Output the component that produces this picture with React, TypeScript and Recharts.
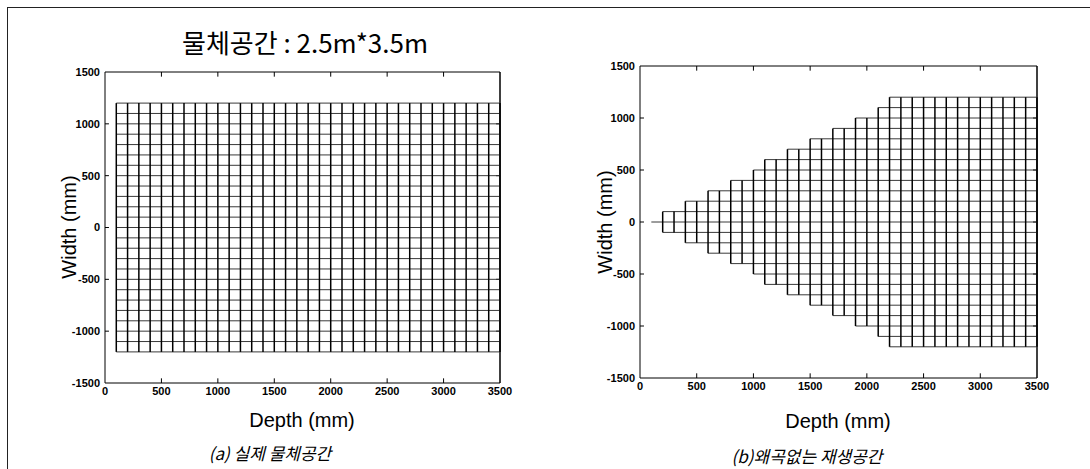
import React from "react";
import { ComposedChart, XAxis, YAxis, ReferenceLine } from "recharts";

// axis ticks (mm)
const depthTicks = [0, 500, 1000, 1500, 2000, 2500, 3000, 3500];
const widthTicks = [-1500, -1000, -500, 0, 500, 1000, 1500];

// grid rows shared by both panels (mm)
const widthLevels = [
  -1200, -1100, -1000, -900, -800, -700, -600, -500, -400, -300, -200, -100, 0,
  100, 200, 300, 400, 500, 600, 700, 800, 900, 1000, 1100, 1200,
];

// (a) real object space: every column spans +-1200
const realDepths = [
  100, 200, 300, 400, 500, 600, 700, 800, 900, 1000, 1100, 1200, 1300, 1400, 1500,
  1600, 1700, 1800, 1900, 2000, 2100, 2200, 2300, 2400, 2500, 2600, 2700, 2800,
  2900, 3000, 3100, 3200, 3300, 3400, 3500,
];
const realHalfWidths = [
  1200, 1200, 1200, 1200, 1200, 1200, 1200, 1200, 1200, 1200, 1200, 1200, 1200,
  1200, 1200, 1200, 1200, 1200, 1200, 1200, 1200, 1200, 1200, 1200, 1200, 1200,
  1200, 1200, 1200, 1200, 1200, 1200, 1200, 1200, 1200,
];

// (b) distortion-free replay space: half width of each column
const replayDepths = [
  100, 200, 300, 400, 500, 600, 700, 800, 900, 1000, 1100, 1200, 1300, 1400, 1500,
  1600, 1700, 1800, 1900, 2000, 2100, 2200, 2300, 2400, 2500, 2600, 2700, 2800,
  2900, 3000, 3100, 3200, 3300, 3400, 3500,
];
const replayHalfWidths = [
  0, 100, 100, 200, 200, 300, 300, 400, 400, 500, 600, 600, 700, 700, 800, 800,
  900, 900, 1000, 1000, 1100, 1200, 1200, 1200, 1200, 1200, 1200, 1200, 1200,
  1200, 1200, 1200, 1200, 1200, 1200,
];

const tickFont = { fontSize: 11, fill: "#000", fontFamily: "Liberation Sans, Arial", fontWeight: 700 };

interface PanelProps {
  depths: number[];
  halfWidths: number[];
  left: number;
  margin: { top: number; right: number; bottom: number; left: number };
}

function GridPanel({ depths, halfWidths, left, margin }: PanelProps) {
  // each row starts at the first column wide enough to reach it
  const rows = widthLevels.map((y) => {
    const i = halfWidths.findIndex((h) => h >= Math.abs(y));
    return { y, from: depths[i], to: depths[depths.length - 1] };
  });

  // short inward tick marks, matlab style (in data units ~4px)
  const xt = depthTicks.slice(1, -1);
  const yt = widthTicks.slice(1, -1);

  return (
    <div style={{ position: "absolute", left, top: 0 }}>
      <ComposedChart width={545} height={469} margin={margin}>
        <XAxis
          type="number"
          dataKey="x"
          domain={[0, 3500]}
          ticks={depthTicks}
          tick={tickFont}
          tickLine={false}
          tickSize={0}
          tickMargin={4}
          height={30}
          axisLine={{ stroke: "#000" }}
          allowDataOverflow
        />
        <YAxis
          type="number"
          domain={[-1500, 1500]}
          ticks={widthTicks}
          tick={tickFont}
          tickLine={false}
          tickSize={0}
          tickMargin={5}
          width={60}
          axisLine={{ stroke: "#000" }}
          allowDataOverflow
        />
        {/* plot box edges */}
        <ReferenceLine y={1500} stroke="#000" strokeWidth={1} ifOverflow="visible" />
        <ReferenceLine x={3500} stroke="#000" strokeWidth={1.5} ifOverflow="visible" />
        {xt.map((t) => (
          <ReferenceLine key={"xb" + t} segment={[{ x: t, y: -1500 }, { x: t, y: -1455 }]} stroke="#000" />
        ))}
        {xt.map((t) => (
          <ReferenceLine key={"xt" + t} segment={[{ x: t, y: 1500 }, { x: t, y: 1455 }]} stroke="#000" />
        ))}
        {yt.map((t) => (
          <ReferenceLine key={"yl" + t} segment={[{ x: 0, y: t }, { x: 35, y: t }]} stroke="#000" />
        ))}
        {yt.map((t) => (
          <ReferenceLine key={"yr" + t} segment={[{ x: 3465, y: t }, { x: 3500, y: t }]} stroke="#000" />
        ))}
        {rows.map((r) => (
          <ReferenceLine
            key={"h" + r.y}
            segment={[{ x: r.from, y: r.y }, { x: r.to, y: r.y }]}
            stroke="#3a3a3a"
            strokeWidth={1}
          />
        ))}
        {depths.map((d, i) =>
          halfWidths[i] > 0 ? (
            <ReferenceLine
              key={"v" + d}
              segment={[{ x: d, y: -halfWidths[i] }, { x: d, y: halfWidths[i] }]}
              stroke="#000"
              strokeWidth={1.5}
            />
          ) : null
        )}
      </ComposedChart>
    </div>
  );
}

const textBase: React.CSSProperties = {
  position: "absolute",
  transform: "translate(-50%, -50%)",
  whiteSpace: "nowrap",
  color: "#000",
  lineHeight: 1,
};

function Txt({ x, y, size, children, style }: { x: number; y: number; size: number; children: React.ReactNode; style?: React.CSSProperties }) {
  return <div style={{ ...textBase, left: x, top: y, fontSize: size, ...style }}>{children}</div>;
}

export default function App() {
  const axisFont = "Liberation Sans, Arial, sans-serif";
  const korFont = "Noto Sans CJK KR, sans-serif";
  return (
    <div style={{ position: "absolute", left: 0, top: 0, width: 1090, height: 469, background: "#fff", overflow: "hidden" }}>
      <div style={{ position: "absolute", left: 7, top: 7, width: 1083, height: 462, borderTop: "1px solid #222", borderLeft: "1px solid #222" }} />
      <GridPanel depths={realDepths} halfWidths={realHalfWidths} left={0} margin={{ top: 72, right: 45, bottom: 56, left: 45 }} />
      <GridPanel depths={replayDepths} halfWidths={replayHalfWidths} left={545} margin={{ top: 66, right: 53, bottom: 61, left: 35 }} />

      <Txt x={305} y={42} size={26} style={{ fontFamily: korFont }}>물체공간 : 2.5m*3.5m</Txt>

      <Txt x={302} y={420} size={20} style={{ fontFamily: axisFont }}>Depth (mm)</Txt>
      <Txt x={838} y={421} size={20} style={{ fontFamily: axisFont }}>Depth (mm)</Txt>
      <Txt x={69} y={227} size={20} style={{ fontFamily: axisFont, transform: "translate(-50%, -50%) rotate(-90deg)" }}>Width (mm)</Txt>
      <Txt x={605} y={222} size={20} style={{ fontFamily: axisFont, transform: "translate(-50%, -50%) rotate(-90deg)" }}>Width (mm)</Txt>

      <Txt x={270} y={452} size={17} style={{ fontFamily: korFont, fontStyle: "italic" }}>(a) 실제 물체공간</Txt>
      <Txt x={807} y={455} size={17} style={{ fontFamily: korFont, fontStyle: "italic" }}>(b)왜곡없는 재생공간</Txt>
    </div>
  );
}
